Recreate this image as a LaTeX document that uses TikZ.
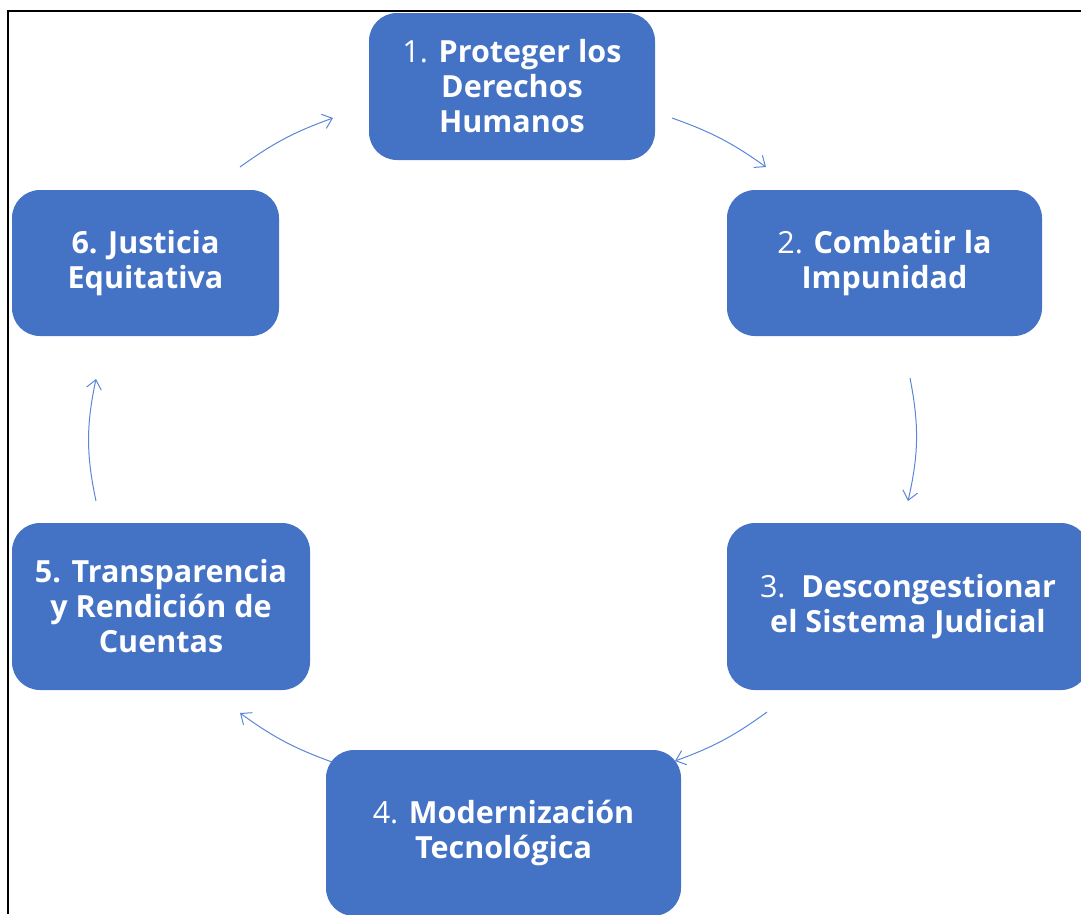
\documentclass[tikz,border=0pt]{standalone}
\usepackage{fontspec}
\setmainfont{Open Sans}
\usetikzlibrary{arrows.meta}

\definecolor{boxblue}{HTML}{4472C4}
\definecolor{arrowblue}{HTML}{5B86D6}

\begin{document}
\begin{tikzpicture}[x=1pt, y=-1pt,
    stagebox/.style={fill=boxblue, rounded corners=28pt, text=white, align=center,
      inner sep=0pt, font=\fontsize{30.5}{35}\selectfont\bfseries},
    cyclearrow/.style={draw=arrowblue, line width=1pt,
      -{Straight Barb[length=9pt, width=15pt]}}]
          \useasboundingbox (0,0) rectangle (1081,914);

          % Frame
          \draw[line width=2pt] (1081,10.5) -- (8,10.5) -- (8,914);

          % Nodes for the stages
          \node[stagebox, minimum width=286pt, minimum height=147pt] (S1) at (512,86.5)
            {{\mdseries 1.} Proteger los\\Derechos\\Humanos};
          \node[stagebox, minimum width=315pt, minimum height=146pt] (S2) at (884.5,263)
            {{\mdseries 2.} Combatir la\\Impunidad};
          \node[stagebox, minimum width=362pt, minimum height=167pt] (S3) at (908,606.5)
            {{\mdseries 3.}\ \ Descongestionar\\el Sistema Judicial};
          \node[stagebox, minimum width=355pt, minimum height=166pt] (S4) at (503.5,833)
            {{\mdseries 4.} Modernización\\Tecnológica};
          \node[stagebox, minimum width=298pt, minimum height=167pt] (S5) at (161,606.5)
            {5. Transparencia\\y Rendición de\\Cuentas};
          \node[stagebox, minimum width=267pt, minimum height=146pt] (S6) at (145.5,263)
            {6. Justicia\\Equitativa};

          % Arrow ends
          \coordinate (A1a) at (672,118);
          \coordinate (A1b) at (766,167);
          \coordinate (A2a) at (910,378);
          \coordinate (A2b) at (908,501);
          \coordinate (A3a) at (767,712);
          \coordinate (A3b) at (675,761);
          \coordinate (A4a) at (332,762);
          \coordinate (A4b) at (240,713);
          \coordinate (A5a) at (96,501);
          \coordinate (A5b) at (96,379);
          \coordinate (A6a) at (240,167);
          \coordinate (A6b) at (333,118);

          % Edges
          \draw[cyclearrow] (A1a) to[bend left=8] (A1b);
          \draw[cyclearrow] (A2a) to[bend left=12] (A2b);
          \draw[cyclearrow] (A3a) to[bend left=8] (A3b);
          \draw[cyclearrow] (A4a) to[bend left=8] (A4b);
          \draw[cyclearrow] (A5a) to[bend left=12] (A5b);
          \draw[cyclearrow] (A6a) to[bend left=8] (A6b);
        \end{tikzpicture}
\end{document}
